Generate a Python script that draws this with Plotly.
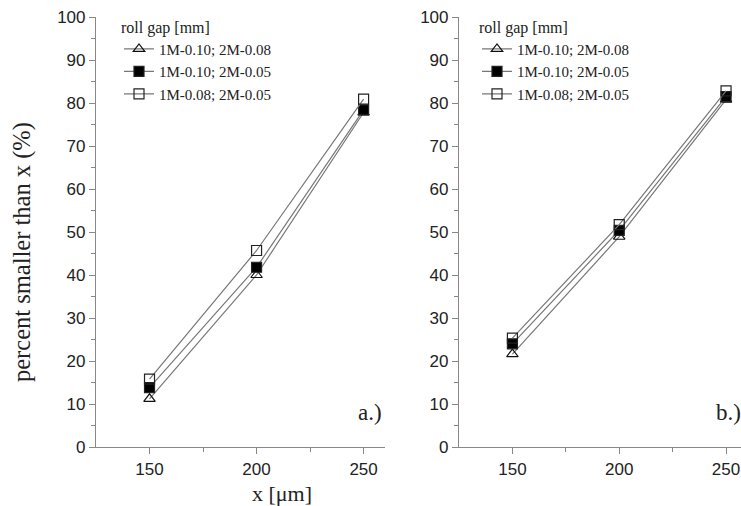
import plotly.graph_objects as go

x_vals = [150, 200, 250]
series_names = ["1M-0.10; 2M-0.08", "1M-0.10; 2M-0.05", "1M-0.08; 2M-0.05"]
a_tri = [11.2, 40.0, 77.8]
a_fill = [13.8, 41.8, 78.4]
a_open = [15.8, 45.7, 80.9]
b_tri = [21.6, 48.9, 80.8]
b_fill = [24.0, 50.4, 81.5]
b_open = [25.3, 51.7, 82.8]
y_ticks = list(range(0, 101, 10))
x_ticks = [150, 200, 250]

W, H = 741, 506
symbols = ["triangle-up-open", "square", "square-open"]
marker_colors = ["#111", "#000", "#222"]

fig = go.Figure()
panels = [("x", "y", "legend", [a_tri, a_fill, a_open]),
          ("x2", "y2", "legend2", [b_tri, b_fill, b_open])]
for xa, ya, leg, data in panels:
    for name, ys, sym, mc in zip(series_names, data, symbols, marker_colors):
        fig.add_trace(go.Scatter(
            x=x_vals, y=ys, name=name, mode="lines+markers",
            xaxis=xa, yaxis=ya, legend=leg,
            line=dict(color="#777", width=1.2),
            marker=dict(symbol=sym, size=10, color=mc,
                        line=dict(color="#222", width=1.2)),
        ))

axis_common = dict(
    showgrid=False, zeroline=False, showline=True, linecolor="#888", linewidth=1.2,
    ticks="outside", ticklen=6, tickcolor="#888", tickwidth=1.2,
    tickfont=dict(family="Liberation Sans, Arial", size=17, color="#222"),
)

legend_common = dict(
    xanchor="left", yanchor="top", y=1.012,
    title=dict(text="roll gap [mm]", font=dict(family="Liberation Serif", size=16, color="#222")),
    font=dict(family="Liberation Serif", size=15, color="#222"),
    bgcolor="rgba(0,0,0,0)", tracegroupgap=0, itemwidth=30,
)

fig.update_layout(
    width=W, height=H,
    margin=dict(l=0, r=0, t=17, b=59),
    plot_bgcolor="white", paper_bgcolor="white",
    xaxis=dict(domain=[96 / W, 385 / W], range=[125, 260], tickvals=x_ticks,
               minor=dict(tickvals=[175, 225], ticks="outside", ticklen=4, tickcolor="#888"),
               anchor="y", **axis_common),
    yaxis=dict(domain=[0, 1], range=[0, 100], tickvals=y_ticks,
               minor=dict(dtick=5, ticks="outside", ticklen=4, tickcolor="#888"),
               anchor="x", **axis_common),
    xaxis2=dict(domain=[459 / W, 1.0], range=[125, 257], tickvals=x_ticks,
                minor=dict(tickvals=[175, 225], ticks="outside", ticklen=4, tickcolor="#888"),
                anchor="y2", **axis_common),
    yaxis2=dict(domain=[0, 1], range=[0, 100], tickvals=y_ticks,
                minor=dict(dtick=5, ticks="outside", ticklen=4, tickcolor="#888"),
                anchor="x2", **axis_common),
    legend=dict(x=119 / W, **legend_common),
    legend2=dict(x=477 / W, **legend_common),
    annotations=[
        dict(text="percent smaller than x (%)", textangle=-90, xref="paper", yref="paper",
             x=22 / W, y=(447 - 252) / 430, xanchor="center", yanchor="middle",
             showarrow=False, font=dict(family="Liberation Serif", size=24.5, color="#222")),
        dict(text="x [μm]", xref="paper", yref="paper", x=282 / W, y=-(493 - 447) / 430,
             xanchor="center", yanchor="middle", showarrow=False,
             font=dict(family="Liberation Serif", size=22, color="#222")),
        dict(text="a.)", xref="x", yref="y", x=246.5, y=8, xanchor="left", yanchor="middle",
             showarrow=False, font=dict(family="Liberation Serif", size=23, color="#222")),
        dict(text="b.)", xref="x2", yref="y2", x=244.5, y=8, xanchor="left", yanchor="middle",
             showarrow=False, font=dict(family="Liberation Serif", size=23, color="#222")),
    ],
)

fig.write_html("out.html", config={"displayModeBar": False},
               post_script="document.body.style.margin='0';document.body.style.overflow='hidden';")
